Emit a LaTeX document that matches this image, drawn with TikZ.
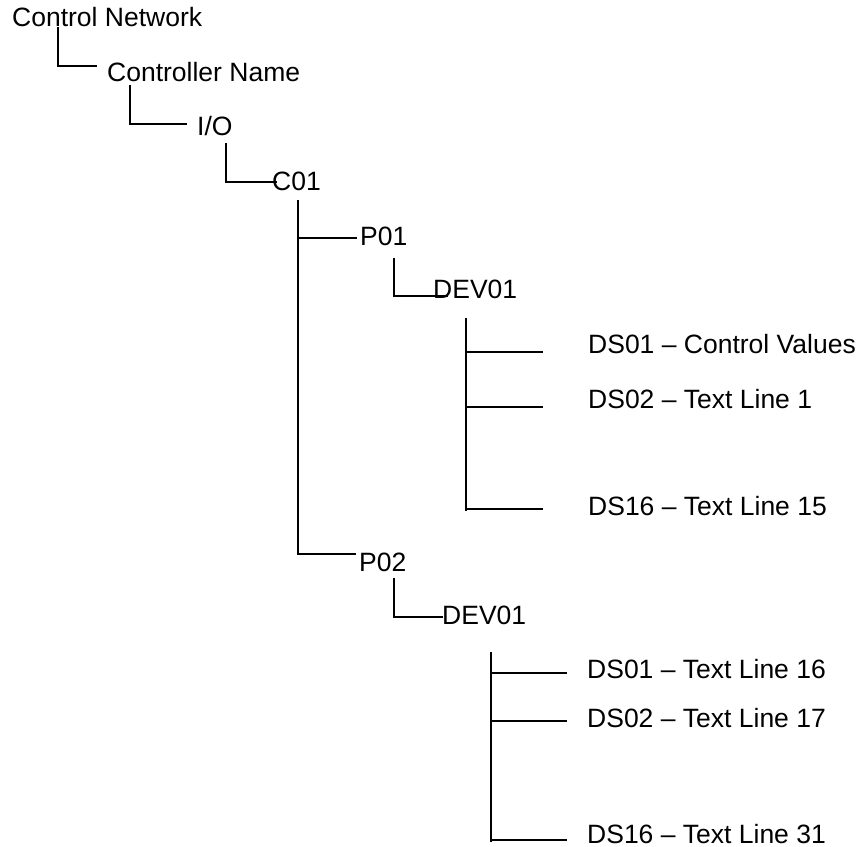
\documentclass[tikz,border=0pt]{standalone}
\usepackage{fontspec}
\setmainfont{Liberation Sans}
\usetikzlibrary{calc}
\begin{document}
\begin{tikzpicture}[x=1bp,y=-1bp,
  lbl/.style={anchor=base west,inner sep=0pt,font=\fontsize{26.5bp}{31bp}\selectfont},
  wire/.style={line width=1.8bp,line join=miter}]
\useasboundingbox (0,0) rectangle (859,847);

% tree labels (base-left positions)
\node[lbl] (cn)   at (12,26)  {Control Network};
\node[lbl] (ctl)  at (107,81) {Controller Name};
\node[lbl] (io)   at (197,135) {I/O};
\node[lbl] (c01)  at (272,190) {C01};
\node[lbl] (p01)  at (360,245) {P01};
\node[lbl] (dev1) at (433,298) {DEV01};
\node[lbl] (ds1a) at (588,353) {DS01 – Control Values};
\node[lbl] (ds1b) at (588,408) {DS02 – Text Line 1};
\node[lbl] (ds1c) at (588,515) {DS16 – Text Line 15};
\node[lbl] (p02)  at (359,571) {P02};
\node[lbl] (dev2) at (442,624) {DEV01};
\node[lbl] (ds2a) at (587,678) {DS01 – Text Line 16};
\node[lbl] (ds2b) at (587,727) {DS02 – Text Line 17};
\node[lbl] (ds2c) at (587,843) {DS16 – Text Line 31};

% single-child elbows
\draw[wire] ($(cn.base west)+(46,1)$)   |- ($(ctl.base west)+(-10,-15)$);
\draw[wire] ($(ctl.base west)+(23,4)$)  |- ($(io.base west)+(-10,-11)$);
\draw[wire] ($(io.base west)+(29,8)$)   |- ($(c01.base west)+(5,-8)$);
\draw[wire] ($(p01.base west)+(34,13)$) |- ($(dev1.base west)+(15,-2)$);
\draw[wire] ($(p02.base west)+(35,7)$)  |- ($(dev2.base west)+(1,-7)$);

% C01 -> P01, P02
\coordinate (tc) at ($(c01.base west)+(26,10)$);
\coordinate (ep1) at ($(p01.base west)+(-3,-7)$);
\coordinate (ep2) at ($(p02.base west)+(-3,-17)$);
\draw[wire] (tc) |- (ep2);
\draw[wire] (tc |- ep1) -- (ep1);

% first DEV01 -> data sets
\coordinate (t1) at ($(dev1.base west)+(33,20)$);
\coordinate (e1a) at ($(ds1a.base west)+(-45,-1)$);
\coordinate (e1b) at ($(ds1b.base west)+(-45,-1)$);
\coordinate (e1c) at ($(ds1c.base west)+(-45,-6)$);
\draw[wire] (t1) -- ($(t1 |- e1c)+(0,2)$);
\draw[wire] (t1 |- e1a) -- (e1a);
\draw[wire] (t1 |- e1b) -- (e1b);
\draw[wire] (t1 |- e1c) -- (e1c);

% second DEV01 -> data sets
\coordinate (t2) at ($(dev2.base west)+(49,28)$);
\coordinate (e2a) at ($(ds2a.base west)+(-20,-5)$);
\coordinate (e2b) at ($(ds2b.base west)+(-20,-6)$);
\coordinate (e2c) at ($(ds2c.base west)+(-20,-3)$);
\draw[wire] (t2) -- ($(t2 |- e2c)+(0,2)$);
\draw[wire] (t2 |- e2a) -- (e2a);
\draw[wire] (t2 |- e2b) -- (e2b);
\draw[wire] (t2 |- e2c) -- (e2c);
\end{tikzpicture}
\end{document}
